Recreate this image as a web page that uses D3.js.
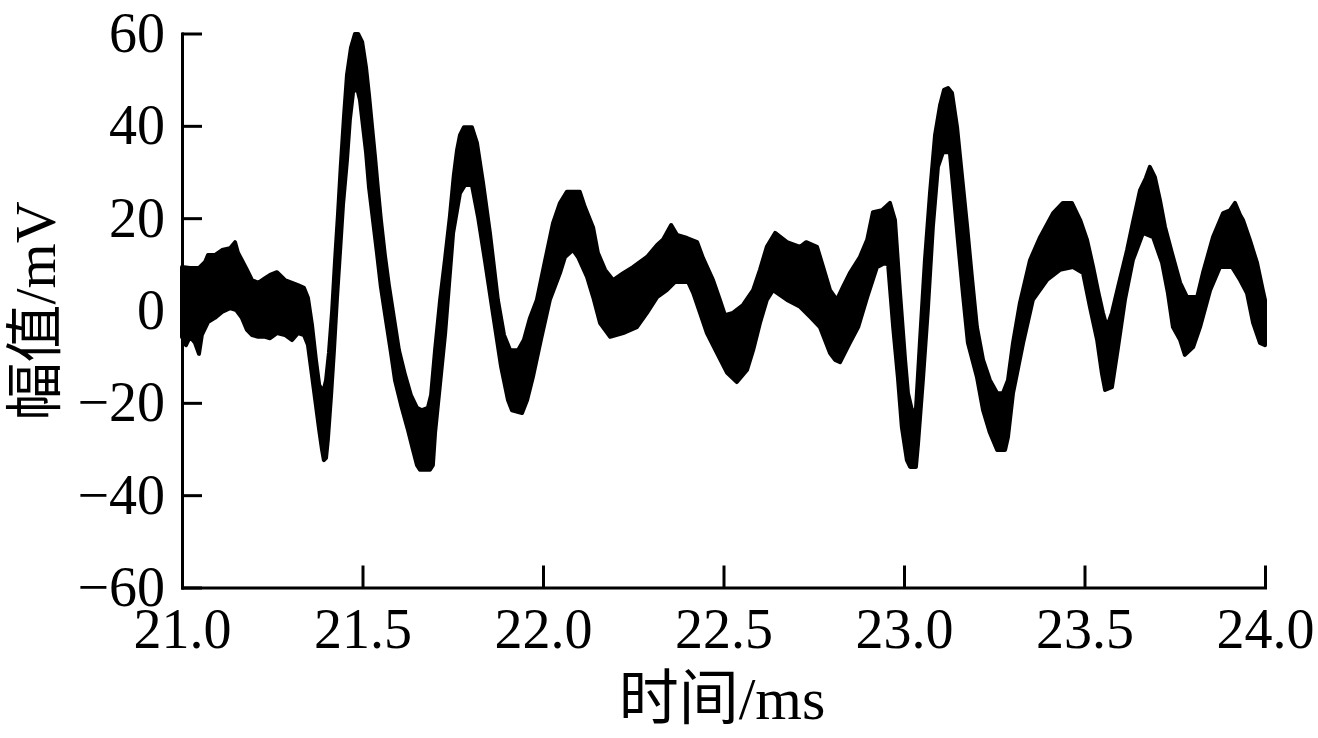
<!DOCTYPE html>
<html>
<head>
<meta charset="utf-8">
<script src="https://cdn.jsdelivr.net/npm/d3@7"></script>
<style>
  body { margin: 0; background: #fff; }
  text { font-family: "Liberation Serif", "Noto Sans CJK SC", serif; fill: #000; }
</style>
</head>
<body>
<svg id="chart" width="1318" height="738"></svg>
<script>
// upper edge of the noisy trace (time in ms, amplitude in mV)
var upperT = [21.000,21.022,21.047,21.064,21.072,21.091,21.111,21.133,21.147,21.155,21.166,21.180,21.194,21.211,21.230,21.244,21.263,21.285,21.305,21.321,21.338,21.349,21.360,21.371,21.380,21.391,21.399,21.407,21.416,21.424,21.432,21.440,21.449,21.457,21.468,21.479,21.488,21.499,21.510,21.518,21.526,21.535,21.543,21.551,21.562,21.573,21.587,21.601,21.618,21.634,21.651,21.665,21.681,21.690,21.701,21.715,21.729,21.742,21.753,21.762,21.770,21.781,21.803,21.817,21.834,21.853,21.875,21.892,21.909,21.931,21.947,21.964,21.983,22.006,22.028,22.047,22.066,22.102,22.116,22.139,22.152,22.172,22.194,22.222,22.249,22.288,22.316,22.332,22.355,22.371,22.399,22.427,22.443,22.471,22.490,22.504,22.526,22.554,22.582,22.601,22.620,22.643,22.676,22.712,22.729,22.759,22.776,22.795,22.814,22.831,22.850,22.878,22.898,22.914,22.939,22.961,22.975,22.989,23.003,23.011,23.022,23.033,23.044,23.058,23.072,23.086,23.100,23.111,23.122,23.133,23.147,23.161,23.175,23.188,23.202,23.219,23.238,23.258,23.274,23.288,23.302,23.321,23.349,23.377,23.413,23.440,23.465,23.488,23.507,23.524,23.537,23.551,23.562,23.576,23.593,23.618,23.634,23.654,23.670,23.681,23.695,23.709,23.723,23.742,23.765,23.784,23.812,23.828,23.856,23.884,23.903,23.917,23.931,23.939,23.958,23.978,23.994,24.000];
var upperV = [9.4,9.2,9.2,10.5,12.0,12.0,13.1,13.5,14.8,12.5,10.9,8.8,6.6,6.0,7.0,7.7,8.3,6.6,6.0,5.5,4.9,2.7,-3.1,-10.7,-16.1,-17.7,-15.1,-9.2,0.1,10.9,20.7,31.5,42.3,51.0,56.9,59.9,59.9,58.2,52.5,46.7,40.2,33.0,26.1,19.6,12.0,5.5,-1.6,-8.6,-14.0,-18.3,-21.1,-21.6,-21.1,-18.3,-8.6,2.3,11.4,20.3,29.3,34.8,38.0,39.7,39.7,36.3,27.6,16.8,2.3,-5.3,-8.6,-8.6,-6.4,-1.6,2.3,10.9,19.0,23.3,25.7,25.7,22.4,17.9,12.5,8.8,6.6,8.1,9.4,11.6,14.2,15.3,18.5,16.4,15.7,14.8,11.4,6.6,2.3,-1.0,-0.5,1.2,4.4,8.8,13.8,16.8,14.8,13.8,14.8,13.8,9.4,4.4,2.3,5.1,8.1,11.6,15.3,21.3,21.7,23.3,19.6,3.8,-10.7,-17.9,-21.6,-21.6,-7.0,10.9,25.4,38.0,44.5,47.8,48.2,47.1,39.7,28.9,18.1,7.3,-3.6,-10.7,-15.1,-17.9,-17.9,-15.1,-7.0,1.6,10.9,15.9,21.1,23.3,23.3,19.6,15.3,9.4,4.4,-0.5,-3.6,-0.5,5.1,13.1,19.0,26.1,28.7,31.1,28.9,23.9,18.1,12.5,6.0,2.9,2.9,8.1,15.9,21.1,21.7,23.3,20.7,19.6,15.3,10.3,4.4,2.3];

// lower edge of the noisy trace
var lowerT = [21.000,21.011,21.022,21.036,21.047,21.055,21.072,21.091,21.111,21.133,21.150,21.166,21.180,21.194,21.211,21.230,21.244,21.263,21.285,21.305,21.321,21.338,21.349,21.360,21.371,21.380,21.388,21.393,21.399,21.404,21.413,21.421,21.429,21.438,21.446,21.457,21.465,21.474,21.485,21.493,21.501,21.510,21.518,21.529,21.540,21.551,21.565,21.579,21.590,21.607,21.626,21.640,21.651,21.659,21.687,21.695,21.701,21.715,21.729,21.740,21.751,21.762,21.770,21.784,21.803,21.820,21.839,21.861,21.884,21.903,21.914,21.942,21.956,21.972,21.994,22.019,22.047,22.061,22.083,22.097,22.122,22.139,22.158,22.186,22.222,22.260,22.288,22.316,22.343,22.366,22.402,22.416,22.435,22.454,22.482,22.510,22.537,22.565,22.582,22.601,22.620,22.637,22.676,22.712,22.740,22.767,22.795,22.809,22.823,22.850,22.873,22.898,22.925,22.947,22.956,22.970,22.983,22.994,23.008,23.017,23.033,23.039,23.053,23.066,23.080,23.094,23.108,23.127,23.136,23.150,23.163,23.177,23.202,23.219,23.238,23.258,23.280,23.288,23.302,23.330,23.357,23.396,23.432,23.468,23.496,23.515,23.535,23.548,23.557,23.576,23.593,23.612,23.634,23.662,23.690,23.715,23.731,23.745,23.765,23.778,23.801,23.820,23.848,23.875,23.909,23.931,23.950,23.967,23.986,24.000];
var lowerV = [-5.7,-7.5,-5.7,-7.0,-9.4,-5.3,-2.5,-1.6,-0.3,0.5,0.1,-1.6,-4.2,-5.3,-5.7,-5.7,-6.0,-4.9,-5.3,-6.4,-4.9,-5.3,-7.5,-14.0,-20.5,-25.9,-30.2,-32.4,-31.9,-28.0,-18.3,-8.6,2.3,13.1,22.9,32.6,41.3,47.3,48.2,45.6,40.2,34.1,26.7,19.6,12.5,5.1,-2.1,-9.2,-15.1,-20.5,-25.9,-30.2,-33.5,-34.5,-34.5,-33.5,-26.5,-15.7,-4.9,6.0,16.8,21.8,25.4,27.2,27.2,20.3,10.9,-0.5,-12.2,-19.4,-21.6,-22.2,-19.4,-14.4,-6.4,2.3,8.1,11.6,13.1,11.6,7.3,2.9,-2.7,-5.7,-4.9,-3.6,-0.5,2.9,4.4,6.2,6.2,3.8,-0.5,-4.9,-9.2,-13.5,-15.5,-12.9,-8.6,-2.7,2.3,4.4,2.3,0.8,-1.4,-3.6,-9.2,-10.7,-11.2,-7.0,-3.6,2.9,9.4,10.3,9.9,-3.6,-14.4,-25.2,-32.4,-33.9,-33.9,-28.7,-14.4,0.1,18.1,31.1,34.3,34.3,26.7,14.6,3.8,-7.0,-14.4,-21.6,-26.5,-30.2,-30.2,-27.4,-17.9,-7.0,2.3,6.6,8.8,9.4,8.1,0.8,-6.4,-13.5,-17.2,-16.6,-7.9,2.3,10.9,16.8,15.9,10.3,3.8,-3.6,-6.4,-9.6,-7.9,-3.6,4.4,9.4,9.4,6.6,3.8,-2.7,-7.0,-7.5];

var xTicks = [21.0, 21.5, 22.0, 22.5, 23.0, 23.5, 24.0];
var yTicks = [-60, -40, -20, 0, 20, 40, 60];
var xTitle = "时间/ms";
var yTitle = "幅值/mV";

var svg = d3.select("#chart");
var plotL = 182, plotR = 1265, plotT = 33.5, plotB = 587.5;

var x = d3.scaleLinear().domain([21, 24]).range([plotL, plotR]);
var y = d3.scaleLinear().domain([-60, 60]).range([plotB, plotT]);

// band between upper and lower edge
var pts = upperT.map(function(t, i) { return [t, upperV[i]]; });
for (var i = lowerT.length - 1; i >= 0; i--) pts.push([lowerT[i], lowerV[i]]);
var line = d3.line()
    .x(function(d) { return x(d[0]); })
    .y(function(d) { return y(d[1]); });

svg.append("path")
    .attr("d", line(pts) + "Z")
    .attr("fill", "#000")
    .attr("stroke", "#000")
    .attr("stroke-width", 4)
    .attr("stroke-linejoin", "round");

// axes, ticks pointing inward
var xa = svg.append("g")
    .attr("transform", "translate(0," + plotB + ")")
    .call(d3.axisBottom(x).tickValues(xTicks).tickFormat(d3.format(".1f"))
        .tickSizeInner(-22).tickSizeOuter(0).tickPadding(21));
var ya = svg.append("g")
    .attr("transform", "translate(" + plotL + ",0)")
    .call(d3.axisLeft(y).tickValues(yTicks).tickFormat(d3.format("d"))
        .tickSizeInner(-20).tickSizeOuter(0).tickPadding(17));

[xa, ya].forEach(function(a) {
    a.select(".domain").attr("stroke", "#000").attr("stroke-width", 3).attr("stroke-linecap", "square");
    a.selectAll(".tick line").attr("stroke", "#000").attr("stroke-width", 3);
    a.selectAll(".tick text").attr("font-size", 56).attr("fill", "#000")
        .style("font-family", '"Liberation Serif", serif');
});

svg.append("text")
    .attr("x", 722).attr("y", 719)
    .attr("text-anchor", "middle")
    .attr("font-size", 60)
    .text(xTitle);

svg.append("text")
    .attr("transform", "translate(55,311) rotate(-90)")
    .attr("text-anchor", "middle")
    .attr("font-size", 58)
    .text(yTitle);
</script>
</body>
</html>
